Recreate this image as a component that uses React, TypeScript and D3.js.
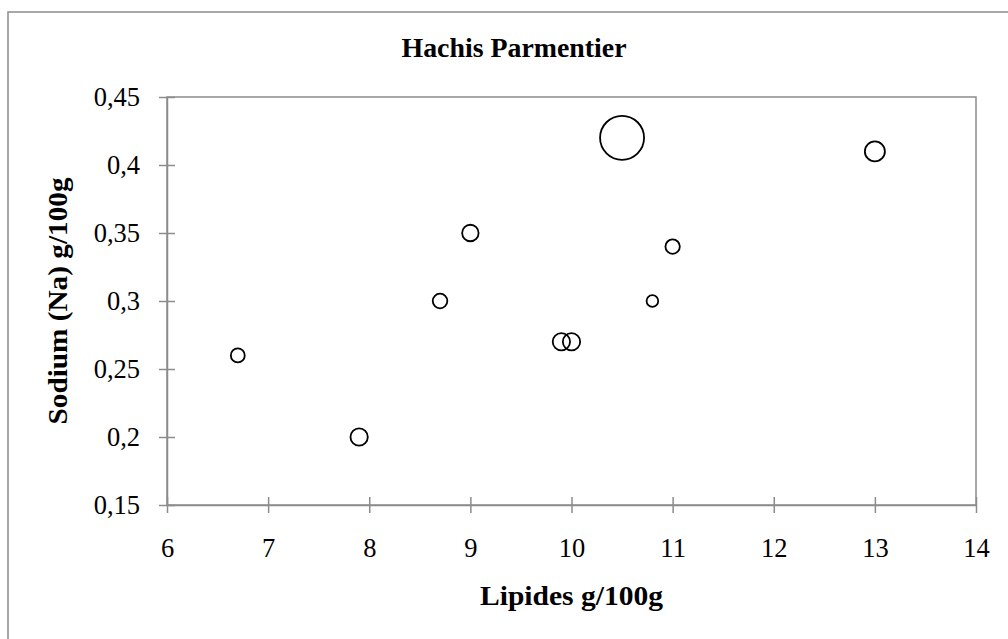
import React, { useRef, useEffect } from "react";
import * as d3 from "d3";

const title = "Hachis Parmentier";
const xTitle = "Lipides g/100g";
const yTitle = "Sodium (Na) g/100g";

const lipides = [6.7, 7.9, 8.7, 9, 9.9, 10, 10.5, 10.8, 11, 13];
const sodium = [0.26, 0.2, 0.3, 0.35, 0.27, 0.27, 0.42, 0.3, 0.34, 0.41];
const bubbleSize = [1.0, 1.55, 1.1, 1.4, 1.55, 1.55, 10, 0.7, 1.07, 2.07];

const xTicks = [6, 7, 8, 9, 10, 11, 12, 13, 14];
const yTicks = [0.15, 0.2, 0.25, 0.3, 0.35, 0.4, 0.45];

const W = 1008;
const H = 639;

const App: React.FC = () => {
  const svg = useRef<SVGSVGElement>(null);

  useEffect(() => {
    const s = d3.select(svg.current);
    s.selectAll("*").remove();

    const left = 167;
    const right = 976;
    const top = 97;
    const bottom = 505;

    const x = d3.scaleLinear().domain([6, 14]).range([left, right]);
    const y = d3.scaleLinear().domain([0.15, 0.45]).range([bottom, top]);
    const r = d3
      .scaleSqrt()
      .domain([0, d3.max(bubbleSize) as number])
      .range([0, 22]);

    const font = "'Liberation Serif', 'Times New Roman', serif";
    const grey = "#8c8c8c";

    // outer chart frame (runs off the page on right and bottom)
    s.append("rect")
      .attr("x", 8)
      .attr("y", 12)
      .attr("width", 1030)
      .attr("height", 660)
      .attr("fill", "white")
      .attr("stroke", grey)
      .attr("stroke-width", 1.5);

    // plot area box
    s.append("rect")
      .attr("x", left)
      .attr("y", top)
      .attr("width", right - left)
      .attr("height", bottom - top)
      .attr("fill", "none")
      .attr("stroke", grey)
      .attr("stroke-width", 1.5);

    const fmt = (v: number) => String(v).replace(".", ",");

    const xAxis = s
      .append("g")
      .attr("transform", `translate(0,${bottom})`)
      .call(
        d3
          .axisBottom(x)
          .tickValues(xTicks)
          .tickSizeInner(8)
          .tickSizeOuter(0)
          .tickFormat((d) => fmt(d as number))
      );
    xAxis.select(".domain").attr("stroke", grey).attr("stroke-width", 1.5);
    xAxis
      .selectAll(".tick line")
      .attr("stroke", grey)
      .attr("stroke-width", 1.5)
      .attr("y1", -8);
    xAxis
      .selectAll(".tick text")
      .attr("fill", "#000")
      .attr("font-family", font)
      .attr("font-size", 26.5)
      .attr("dy", null)
      .attr("y", 52);

    const yAxis = s
      .append("g")
      .attr("transform", `translate(${left},0)`)
      .call(
        d3
          .axisLeft(y)
          .tickValues(yTicks)
          .tickSizeInner(8)
          .tickSizeOuter(0)
          .tickFormat((d) => fmt(d as number))
      );
    yAxis.select(".domain").attr("stroke", grey).attr("stroke-width", 1.5);
    yAxis
      .selectAll(".tick line")
      .attr("stroke", grey)
      .attr("stroke-width", 1.5)
      .attr("x2", 8)
      .attr("x1", -8);
    yAxis
      .selectAll(".tick text")
      .attr("fill", "#000")
      .attr("font-family", font)
      .attr("font-size", 26.5)
      .attr("x", -27)
      .attr("dy", "0.33em");

    s.append("g")
      .selectAll("circle")
      .data(lipides.map((v, i) => ({ x: v, y: sodium[i], size: bubbleSize[i] })))
      .join("circle")
      .attr("cx", (d) => x(d.x))
      .attr("cy", (d) => y(d.y))
      .attr("r", (d) => r(d.size))
      .attr("fill", "none")
      .attr("stroke", "#000")
      .attr("stroke-width", 1.8);

    s.append("text")
      .attr("x", 514)
      .attr("y", 57)
      .attr("text-anchor", "middle")
      .attr("font-family", font)
      .attr("font-weight", "bold")
      .attr("font-size", 27.5)
      .attr("textLength", 225)
      .attr("lengthAdjust", "spacingAndGlyphs")
      .text(title);

    s.append("text")
      .attr("x", (left + right) / 2)
      .attr("y", 605)
      .attr("text-anchor", "middle")
      .attr("font-family", font)
      .attr("font-weight", "bold")
      .attr("font-size", 27.5)
      .attr("textLength", 183)
      .attr("lengthAdjust", "spacingAndGlyphs")
      .text(xTitle);

    s.append("text")
      .attr("transform", `translate(67,${(top + bottom) / 2}) rotate(-90)`)
      .attr("text-anchor", "middle")
      .attr("font-family", font)
      .attr("font-weight", "bold")
      .attr("font-size", 27.5)
      .attr("textLength", 247)
      .attr("lengthAdjust", "spacingAndGlyphs")
      .text(yTitle);
  }, []);

  return (
    <svg
      ref={svg}
      width={W}
      height={H}
      style={{ position: "absolute", left: 0, top: 0, background: "white" }}
    ></svg>
  );
};

export default App;
